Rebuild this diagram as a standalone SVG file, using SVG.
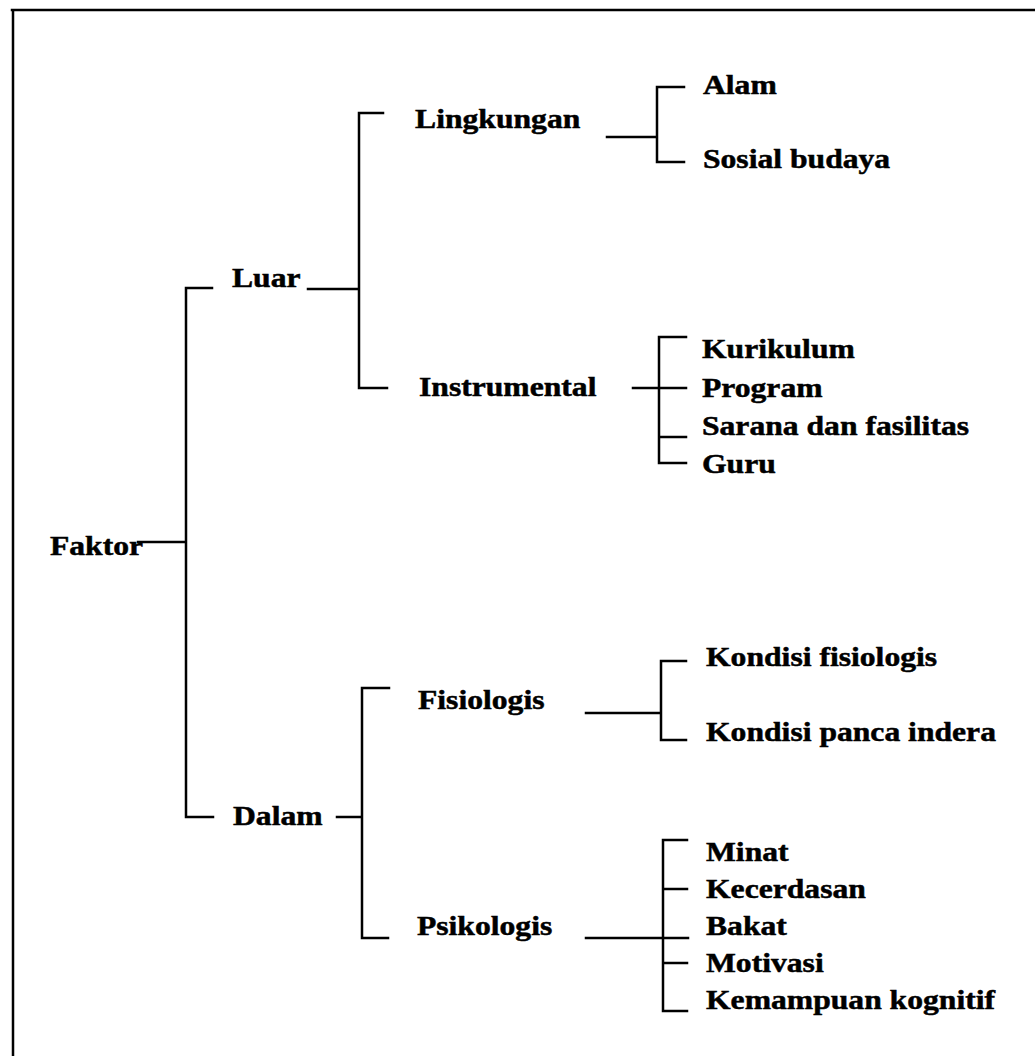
<svg xmlns="http://www.w3.org/2000/svg" width="1035" height="1056" viewBox="0 0 1035 1056">
<style>
.t{font-family:"Liberation Serif","Times New Roman",serif;font-weight:bold;font-size:28px;fill:#000;stroke:#000;stroke-width:0.5}
.c{fill:none;stroke:#000;stroke-width:2.5;stroke-linecap:square}
</style>
<rect width="1035" height="1056" fill="#fff"/>
<g id="connectors">
<path class="c" d="M12,10 H1035 M13,10 V1056"/>
<path class="c" d="M138,542 H186 M212,288 H186 V817 H213"/>
<path class="c" d="M308,289 H359 M383,113 H359 V388 H387"/>
<path class="c" d="M607,137 H657 M684,87 H657 V162 H684"/>
<path class="c" d="M633,388 H686 M686,337 H659 V463 H686 M659,437 H686"/>
<path class="c" d="M337,817 H362 M389,688 H362 V938 H388"/>
<path class="c" d="M586,713 H661 M686,661 H661 V740 H686"/>
<path class="c" d="M586,938 H688 M687,840 H663 V1011 H687 M663,889 H687 M663,963 H687"/>
</g>
<g id="faktor" transform="scale(1.13 1)"><text class="t" x="44.2" y="555">Faktor</text></g>
<g id="luar" transform="scale(1.13 1)"><text class="t" x="205.3" y="287">Luar</text></g>
<g id="dalam" transform="scale(1.13 1)"><text class="t" x="206.2" y="825">Dalam</text></g>
<g id="lingkungan" transform="scale(1.13 1)"><text class="t" x="367.3" y="128">Lingkungan</text></g>
<g id="instrumental" transform="scale(1.13 1)"><text class="t" x="370.8" y="396">Instrumental</text></g>
<g id="fisiologis" transform="scale(1.13 1)"><text class="t" x="369.9" y="709">Fisiologis</text></g>
<g id="psikologis" transform="scale(1.13 1)"><text class="t" x="369" y="935">Psikologis</text></g>
<g id="alam" transform="scale(1.13 1)"><text class="t" x="622.1" y="94">Alam</text></g>
<g id="sosial-budaya" transform="scale(1.13 1)"><text class="t" x="622.1" y="168">Sosial budaya</text></g>
<g id="kurikulum" transform="scale(1.13 1)"><text class="t" x="621.2" y="358">Kurikulum</text></g>
<g id="program" transform="scale(1.13 1)"><text class="t" x="621.2" y="397">Program</text></g>
<g id="sarana" transform="scale(1.13 1)"><text class="t" x="621.2" y="435">Sarana dan fasilitas</text></g>
<g id="guru" transform="scale(1.13 1)"><text class="t" x="621.2" y="473">Guru</text></g>
<g id="kondisi-fisiologis" transform="scale(1.13 1)"><text class="t" x="624.8" y="666">Kondisi fisiologis</text></g>
<g id="kondisi-panca-indera" transform="scale(1.13 1)"><text class="t" x="624.8" y="741">Kondisi panca indera</text></g>
<g id="minat" transform="scale(1.13 1)"><text class="t" x="624.8" y="861">Minat</text></g>
<g id="kecerdasan" transform="scale(1.13 1)"><text class="t" x="624.8" y="898">Kecerdasan</text></g>
<g id="bakat" transform="scale(1.13 1)"><text class="t" x="624.8" y="935">Bakat</text></g>
<g id="motivasi" transform="scale(1.13 1)"><text class="t" x="624.8" y="972">Motivasi</text></g>
<g id="kemampuan-kognitif" transform="scale(1.13 1)"><text class="t" x="624.8" y="1009">Kemampuan kognitif</text></g>
</svg>
